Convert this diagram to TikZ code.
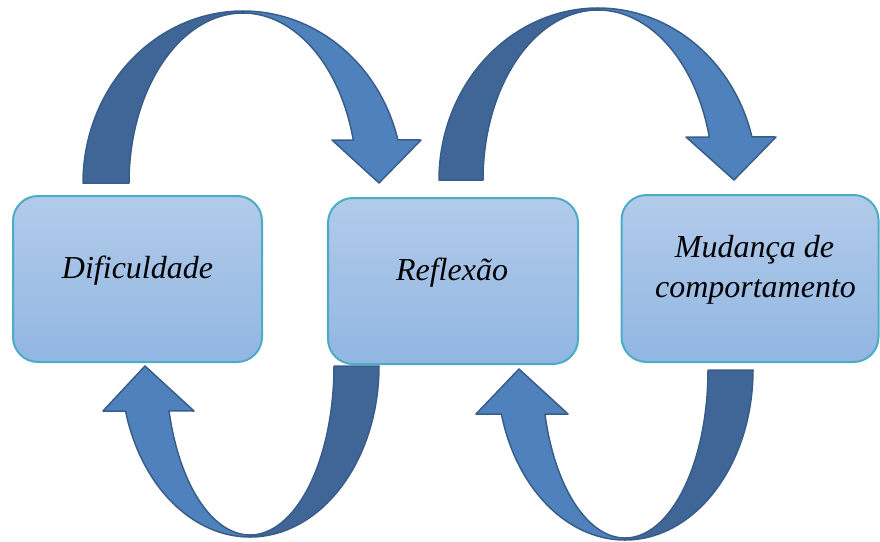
\documentclass[tikz,border=0pt]{standalone}
\usepackage{fontspec}
\setmainfont{Liberation Serif}
\definecolor{arrdark}{RGB}{64,101,151}
\definecolor{arrlight}{RGB}{79,129,189}
\definecolor{arrline}{RGB}{56,93,138}
\definecolor{boxtop}{RGB}{178,203,234}
\definecolor{boxbot}{RGB}{145,182,226}
\definecolor{boxline}{RGB}{75,172,198}
\begin{document}
\begin{tikzpicture}[x=1pt,y=-1pt,
  box/.style={draw=boxline, line width=2pt, rounded corners=25pt,
    top color=boxtop, bottom color=boxbot, inner sep=0pt},
  lbl/.style={font=\fontsize{32}{40}\selectfont\itshape, inner sep=0pt, anchor=base},
  backpart/.style={fill=arrdark, draw=arrline, line width=1.5pt, line join=round},
  frontpart/.style={fill=arrlight, draw=arrline, line width=1.5pt, line join=round}]
\useasboundingbox (0,0) rectangle (880,541);

% boxes
\node[box, minimum width=249pt, minimum height=166pt] (b1) at (137.5,279) {};
\node[box, minimum width=250pt, minimum height=166pt] (b2) at (453,281) {};
\node[box, minimum width=257pt, minimum height=167pt] (b3) at (750,278.5) {};

\node[lbl] (t1) at (137.5,278) {Dificuldade};
\node[lbl] (t2) at (452,280) {Reflexão};
\node[lbl] (t3a) at (754.5,257) {Mudança de};
\node[lbl] (t3b) at (755.5,297) {comportamento};

% top arrow 1 (Dificuldade -> Reflexao)
\draw[backpart] plot[domain=180:90,samples=60] ({243+160*cos(\x)},{183-172*sin(\x)})
  -- plot[domain=90:180,samples=60] ({243+114*cos(\x)},{183-170*sin(\x)}) -- cycle;
\draw[frontpart] plot[domain=90:14.5,samples=60] ({243+160*cos(\x)},{183-172*sin(\x)})
  -- (421,140) -- (379,183) -- (332,140)
  -- plot[domain=14.6:90,samples=60] ({243+114*cos(\x)},{183-170*sin(\x)}) -- cycle;

% top arrow 2 (Reflexao -> Mudanca)
\draw[backpart] plot[domain=180:90,samples=60] ({598+159*cos(\x)},{180-172*sin(\x)})
  -- plot[domain=90:180,samples=60] ({598+115*cos(\x)},{180-170*sin(\x)}) -- cycle;
\draw[frontpart] plot[domain=90:14.5,samples=60] ({598+159*cos(\x)},{180-172*sin(\x)})
  -- (776,137) -- (734,180) -- (686,137)
  -- plot[domain=14.6:90,samples=60] ({598+115*cos(\x)},{180-170*sin(\x)}) -- cycle;

% bottom arrow 1 (Reflexao -> Dificuldade)
\draw[backpart] plot[domain=0:-90,samples=60] ({250+129*cos(\x)},{366-171*sin(\x)})
  -- plot[domain=-90:0,samples=60] ({250+84*cos(\x)},{366-169*sin(\x)}) -- cycle;
\draw[frontpart] plot[domain=270:195.3,samples=60] ({250+129*cos(\x)},{366-171*sin(\x)})
  -- (103,411) -- (145,366) -- (194,411)
  -- plot[domain=195.4:270,samples=60] ({250+84*cos(\x)},{366-169*sin(\x)}) -- cycle;

% bottom arrow 2 (Mudanca -> Reflexao)
\draw[backpart] plot[domain=0:-90,samples=60] ({625+128*cos(\x)},{370-170*sin(\x)})
  -- plot[domain=-90:0,samples=60] ({625+83*cos(\x)},{370-168*sin(\x)}) -- cycle;
\draw[frontpart] plot[domain=270:195.0,samples=60] ({625+128*cos(\x)},{370-170*sin(\x)})
  -- (476,414) -- (519,369) -- (568,414)
  -- plot[domain=195.2:270,samples=60] ({625+83*cos(\x)},{370-168*sin(\x)}) -- cycle;
\end{tikzpicture}
\end{document}
